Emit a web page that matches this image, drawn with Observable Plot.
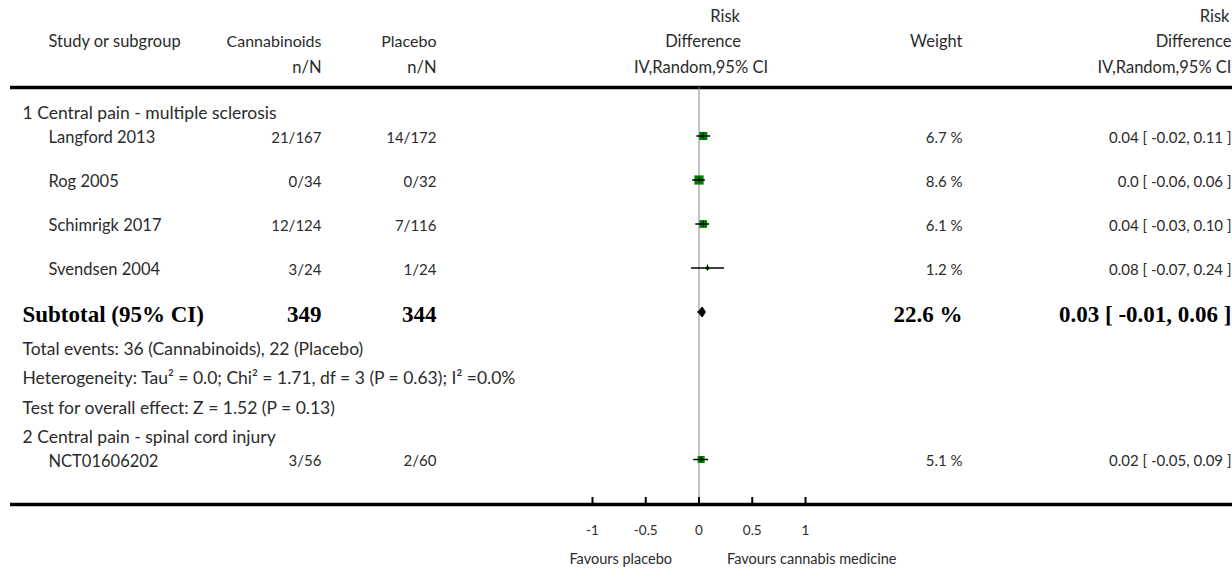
<!DOCTYPE html>
<html><head><meta charset="utf-8">
<script src="https://cdn.jsdelivr.net/npm/d3@7"></script>
<script src="https://cdn.jsdelivr.net/npm/@observablehq/plot@0.6"></script>
<style>body{margin:0;background:#fff}</style>
</head><body><div id="chart"></div>
<script>
// ---- data ----
const subgroupNames = ["1 Central pain - multiple sclerosis", "2 Central pain - spinal cord injury"];
const studies = ["Langford 2013", "Rog 2005", "Schimrigk 2017", "Svendsen 2004", "NCT01606202"];
const studySubgroup = [0, 0, 0, 0, 1];
const cannabisEvents = ["21/167", "0/34", "12/124", "3/24", "3/56"];
const placeboEvents = ["14/172", "0/32", "7/116", "1/24", "2/60"];
const estimate = [0.04, 0.0, 0.04, 0.08, 0.02];
const lower = [-0.02, -0.06, -0.03, -0.07, -0.05];
const upper = [0.11, 0.06, 0.10, 0.24, 0.09];
const weights = [6.7, 8.6, 6.1, 1.2, 5.1];
const ciLabels = ["0.04 [ -0.02, 0.11 ]", "0.0 [ -0.06, 0.06 ]", "0.04 [ -0.03, 0.10 ]", "0.08 [ -0.07, 0.24 ]", "0.02 [ -0.05, 0.09 ]"];
const subtotalLabel = "Subtotal (95% CI)";
const subtotalN = [349, 344];
const subtotalWeight = 22.6;
const subtotalEst = [0.03, -0.01, 0.06];
const subtotalCI = "0.03 [ -0.01, 0.06 ]";
const notes = [
  "Total events: 36 (Cannabinoids), 22 (Placebo)",
  "Heterogeneity: Tau\u00B2 = 0.0; Chi\u00B2 = 1.71, df = 3 (P = 0.63); I\u00B2 =0.0%",
  "Test for overall effect: Z = 1.52 (P = 0.13)"
];
const tickValues = [-1, -0.5, 0, 0.5, 1];
const tickLabels = ["-1", "-0.5", "0", "0.5", "1"];
const favours = ["Favours placebo", "Favours cannabis medicine"];

// ---- layout (row stacking) ----
const rows = [];
rows.push({kind: "group", text: subgroupNames[0]});
studies.forEach((s, i) => { if (studySubgroup[i] === 0) rows.push({kind: "study", i}); });
rows.push({kind: "subtotal"});
notes.forEach(t => rows.push({kind: "note", text: t}));
rows.push({kind: "group", text: subgroupNames[1]});
studies.forEach((s, i) => { if (studySubgroup[i] === 1) rows.push({kind: "study", i}); });
const gap = (prev, cur) => {
  if (cur === "study") return prev === "group" ? 24.5 : 44;
  if (cur === "subtotal") return 45;
  if (cur === "note") return prev === "subtotal" ? 34 : 29.5;
  if (cur === "group") return 29;
  return 30;
};
let yy = 113, prevKind = null;
rows.forEach(r => { if (prevKind) yy += gap(prevKind, r.kind); r.y = yy; prevKind = r.kind; });

const studyRows = rows.filter(r => r.kind === "study").map(r => ({
  y: r.y, name: studies[r.i], c: cannabisEvents[r.i], p: placeboEvents[r.i],
  est: estimate[r.i], lo: lower[r.i], hi: upper[r.i], w: weights[r.i], ci: ciLabels[r.i]
}));
const textRows = rows.filter(r => r.kind === "group" || r.kind === "note");
const subRow = rows.find(r => r.kind === "subtotal");
const diamond = [
  {x: subtotalEst[1], y: subRow.y - 3},
  {x: subtotalEst[0], y: subRow.y - 8},
  {x: subtotalEst[2], y: subRow.y - 3},
  {x: subtotalEst[0], y: subRow.y + 2},
  {x: subtotalEst[1], y: subRow.y - 3}
];

const topLine = 87, axisLine = 504;
const txt = "#2b2b2b";
const FT = 17.5;   // group headings and notes
const FS = 16.5;   // study names
const FN = 15;     // numeric columns
const FH = 16.5;   // header
const FB = 23;     // bold subtotal
const colName = 48, colGroup = 22, colC = 321, colP = 436, colW = 962, colCI = 1231;
const serif = "'Liberation Serif', serif";
const bold = {fill: "#000", fontSize: FB, fontWeight: "bold", fontFamily: serif};

const chart = Plot.plot({
  width: 1232, height: 568, margin: 0,
  x: {domain: [-1, 1], range: [592, 805], axis: null},
  y: {type: "identity", axis: null},
  r: {type: "sqrt", domain: [0, 8.6], range: [0, 5.2]},
  style: {fontFamily: "Lato, 'Noto Sans', sans-serif", fontSize: "15px", color: txt, background: "#fff"},
  marks: [
    // header
    Plot.text(["Study or subgroup"], {frameAnchor: "left", dx: colName, y: 41, text: d => d, textAnchor: "start", fill: txt, fontSize: FH}),
    Plot.text(["Cannabinoids"], {frameAnchor: "left", dx: colC, y: 41, text: d => d, textAnchor: "end", fill: txt, fontSize: FH - 0.5}),
    Plot.text(["Placebo"], {frameAnchor: "left", dx: colP, y: 41, text: d => d, textAnchor: "end", fill: txt, fontSize: FH - 0.5}),
    Plot.text(["n/N"], {frameAnchor: "left", dx: colC, y: 67, text: d => d, textAnchor: "end", fill: txt, fontSize: FH}),
    Plot.text(["n/N"], {frameAnchor: "left", dx: colP, y: 67, text: d => d, textAnchor: "end", fill: txt, fontSize: FH}),
    Plot.text([0], {x: d => d, y: 16, text: () => "Risk", textAnchor: "end", dx: 41, fill: txt, fontSize: FH}),
    Plot.text([0], {x: d => d, y: 41, text: () => "Difference", textAnchor: "end", dx: 42, fill: txt, fontSize: FH}),
    Plot.text([0], {x: d => d, y: 67, text: () => "IV,Random,95% CI", dx: 2, fill: txt, fontSize: FH}),
    Plot.text(["Weight"], {frameAnchor: "left", dx: colW, y: 41, text: d => d, textAnchor: "end", fill: txt, fontSize: FH}),
    Plot.text(["Risk"], {frameAnchor: "left", dx: colCI - 2, y: 16, text: d => d, textAnchor: "end", fill: txt, fontSize: FH}),
    Plot.text(["Difference"], {frameAnchor: "left", dx: colCI, y: 41, text: d => d, textAnchor: "end", fill: txt, fontSize: FH}),
    Plot.text(["IV,Random,95% CI"], {frameAnchor: "left", dx: colCI, y: 67, text: d => d, textAnchor: "end", fill: txt, fontSize: FH}),
    // lines
    Plot.ruleY([topLine], {y: d => d, stroke: "#000", strokeWidth: 3.5, insetLeft: 10}),
    Plot.ruleY([axisLine], {y: d => d, stroke: "#000", strokeWidth: 3.5, insetLeft: 10}),
    Plot.ruleX([0], {x: d => d, y1: topLine, y2: axisLine, stroke: "#888", strokeWidth: 1}),
    // group and note rows
    Plot.text(textRows, {frameAnchor: "left", dx: colGroup, y: "y", text: "text", textAnchor: "start", fill: txt, fontSize: FT}),
    // study rows
    Plot.text(studyRows, {frameAnchor: "left", dx: colName, y: "y", text: "name", textAnchor: "start", fill: txt, fontSize: FS}),
    Plot.text(studyRows, {frameAnchor: "left", dx: colC, y: "y", text: "c", textAnchor: "end", fill: txt, fontSize: FN}),
    Plot.text(studyRows, {frameAnchor: "left", dx: colP, y: "y", text: "p", textAnchor: "end", fill: txt, fontSize: FN}),
    Plot.text(studyRows, {frameAnchor: "left", dx: colW, y: "y", text: d => `${d.w} %`, textAnchor: "end", fill: txt, fontSize: FN}),
    Plot.text(studyRows, {frameAnchor: "left", dx: colCI, y: "y", text: "ci", textAnchor: "end", fill: txt, fontSize: FN}),
    Plot.dot(studyRows, {x: "est", y: d => d.y - 2, r: "w", symbol: "square", fill: "#008000", stroke: "none"}),
    Plot.ruleY(studyRows, {x1: "lo", x2: "hi", y: d => d.y - 2, stroke: "#000", strokeWidth: 1.5}),
    Plot.ruleX(studyRows, {x: "est", y1: d => d.y - 5, y2: d => d.y + 1, stroke: "#000", strokeWidth: 1}),
    // subtotal
    Plot.text([subtotalLabel], {frameAnchor: "left", dx: colGroup, y: subRow.y, text: d => d, textAnchor: "start", ...bold}),
    Plot.text([subtotalN[0]], {frameAnchor: "left", dx: colC, y: subRow.y, text: d => String(d), textAnchor: "end", ...bold}),
    Plot.text([subtotalN[1]], {frameAnchor: "left", dx: colP, y: subRow.y, text: d => String(d), textAnchor: "end", ...bold}),
    Plot.text([subtotalWeight], {frameAnchor: "left", dx: colW, y: subRow.y, text: d => `${d} %`, textAnchor: "end", ...bold}),
    Plot.text([subtotalCI], {frameAnchor: "left", dx: colCI, y: subRow.y, text: d => d, textAnchor: "end", ...bold}),
    Plot.line(diamond, {x: "x", y: "y", fill: "#000", stroke: "#000", strokeWidth: 1}),
    // axis
    Plot.ruleX(tickValues, {x: d => d, y1: axisLine - 7, y2: axisLine, stroke: "#000", strokeWidth: 2}),
    Plot.text(tickValues, {x: d => d, y: 530, text: (d, i) => tickLabels[i], fill: txt, fontSize: 13.5}),
    Plot.text([favours[0]], {x: () => 0, y: 559, text: d => d, textAnchor: "end", dx: -27, fill: txt, fontSize: 14.5}),
    Plot.text([favours[1]], {x: () => 0, y: 559, text: d => d, textAnchor: "start", dx: 28, fill: txt, fontSize: 14.5})
  ]
});
document.getElementById("chart").appendChild(chart);
</script>
</body></html>
